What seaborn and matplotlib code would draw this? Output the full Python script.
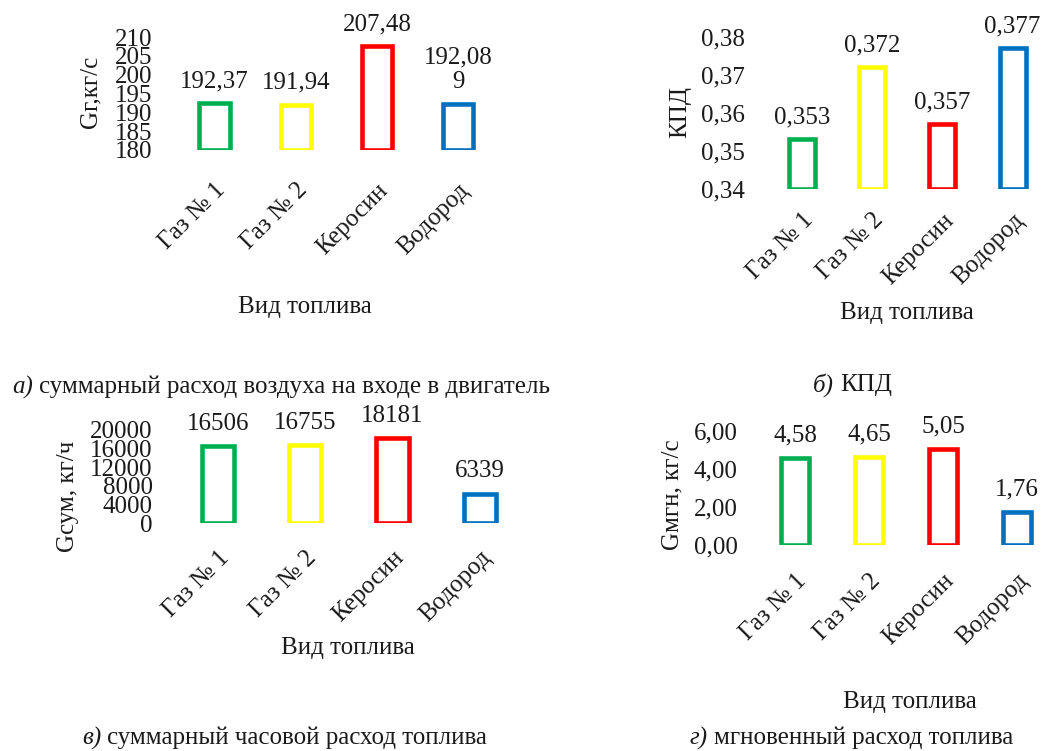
import matplotlib
matplotlib.use("Agg")
import matplotlib.pyplot as plt
from matplotlib.ticker import FuncFormatter
import pandas as pd
import seaborn as sns

# ---- data -------------------------------------------------------------
fuels = ["Газ № 1", "Газ № 2", "Керосин", "Водород"]
fuel_colors = ["#00B050", "#FFFF00", "#FF0000", "#0070C0"]

air_flow = [192.37, 191.94, 207.48, 192.089]
air_flow_labels = ["192,37", "191,94", "207,48", "192,08\n9"]
air_ticks = [180, 185, 190, 195, 200, 205, 210]

efficiency = [0.353, 0.372, 0.357, 0.377]
efficiency_labels = ["0,353", "0,372", "0,357", "0,377"]
efficiency_ticks = [0.34, 0.35, 0.36, 0.37, 0.38]

hourly_fuel = [16506, 16755, 18181, 6339]
hourly_fuel_labels = ["16506", "16755", "18181", "6339"]
hourly_ticks = [0, 4000, 8000, 12000, 16000, 20000]

instant_fuel = [4.58, 4.65, 5.05, 1.76]
instant_fuel_labels = ["4,58", "4,65", "5,05", "1,76"]
instant_ticks = [0, 2, 4, 6]

x_title = "Вид топлива"

# ---- style ------------------------------------------------------------
FS = 18
sns.set_theme(style="white")
plt.rcParams["font.family"] = ["Liberation Serif", "DejaVu Serif"]
for key in ("font.size", "axes.labelsize", "xtick.labelsize", "ytick.labelsize"):
    plt.rcParams[key] = FS
for key in ("text.color", "axes.labelcolor", "xtick.color", "ytick.color"):
    plt.rcParams[key] = "#1a1a1a"

W, H = 1046, 751
fig = plt.figure(figsize=(W / 100, H / 100), dpi=100)
fig.patch.set_facecolor("white")


def px(x, y):
    """Pixel position (from top-left) -> figure fraction."""
    return x / W, 1 - y / H


def make_axes(c0, step, xlo, xhi, y_base, y_top):
    left = c0 + xlo * step
    right = c0 + xhi * step
    ax = fig.add_axes([left / W, 1 - y_base / H, (right - left) / W, (y_base - y_top) / H])
    ax.set_xlim(xlo, xhi)
    return ax


def comma_fmt(decimals):
    return FuncFormatter(lambda v, _: f"{v:.{decimals}f}".replace(".", ","))


def draw_panel(ax, values, labels, ticks, decimals, ylabel, xpad,
               ylabel_xy, xlabel_xy):
    df = pd.DataFrame({"fuel": fuels, "value": values})
    xlim = ax.get_xlim()
    sns.barplot(data=df, x="fuel", y="value", hue="fuel", order=fuels,
                hue_order=fuels, palette=fuel_colors, width=0.37, fill=False,
                linewidth=3.3, legend=False, ax=ax)
    ax.set_xlim(xlim)
    ax.set_ylim(ticks[0], ticks[-1])
    ax.set_yticks(ticks)
    ax.yaxis.set_major_formatter(comma_fmt(decimals))

    # bars rise from the bottom of the value axis
    base = ticks[0]
    bars = sorted(ax.patches, key=lambda p: p.get_x())
    for bar, v, lab in zip(bars, values, labels):
        bar.set_y(base)
        bar.set_height(v - base)
        bar.set_joinstyle("miter")
        ax.annotate(lab, (bar.get_x() + bar.get_width() / 2, v),
                    xytext=(0, 8), textcoords="offset points",
                    ha="center", va="bottom", linespacing=1.15, fontsize=FS)

    sns.despine(ax=ax, left=True, bottom=True)
    ax.tick_params(axis="both", length=0, labelsize=FS)
    ax.tick_params(axis="y", pad=3)
    ax.tick_params(axis="x", pad=xpad)
    for t in ax.get_xticklabels():
        t.set_rotation(45)
        t.set_ha("right")
        t.set_va("top")
        t.set_rotation_mode("anchor")

    ax.set_ylabel(ylabel, fontsize=FS)
    ax.yaxis.label.set_va("center")
    ax.yaxis.set_label_coords(*px(*ylabel_xy), transform=fig.transFigure)
    ax.set_xlabel(x_title, fontsize=FS)
    ax.xaxis.label.set_va("center")
    ax.xaxis.set_label_coords(*px(*xlabel_xy), transform=fig.transFigure)
    ax.set_facecolor("none")


ax_a = make_axes(214.5, 81.2, -0.71, 3.5, 150, 37)
draw_panel(ax_a, air_flow, air_flow_labels, air_ticks, 0, "Gг,кг/с", 21,
           (90, 92), (305, 307))

ax_b = make_axes(802, 70.2, -0.75, 3.45, 188.5, 37)
draw_panel(ax_b, efficiency, efficiency_labels, efficiency_ticks, 2, "КПД", 15,
           (680, 112), (907, 313))

ax_c = make_axes(218, 87.3, -0.70, 3.5, 523, 430)
draw_panel(ax_c, hourly_fuel, hourly_fuel_labels, hourly_ticks, 0, "Gсум, кг/ч", 17,
           (68, 496), (348, 648))

ax_d = make_axes(795, 74, -0.72, 3.45, 545, 431)
draw_panel(ax_d, instant_fuel, instant_fuel_labels, instant_ticks, 2, "Gмгн, кг/с", 17.6,
           (672, 495), (910, 702))

# ---- panel captions: italic letter followed by upright text -------------
captions = [
    ("а)", "суммарный расход воздуха на входе в двигатель", 12, 387),
    ("б)", "КПД", 813, 385),
    ("в)", "суммарный часовой расход топлива", 82, 738),
    ("г)", "мгновенный расход топлива", 690, 738),
]
renderer = fig.canvas.get_renderer()
for letter, text, x0, yc in captions:
    t1 = fig.text(*px(x0, yc), letter, style="italic", ha="left", va="center",
                  fontsize=FS)
    bb = t1.get_window_extent(renderer)
    x1 = bb.x1 + 6
    fig.text(x1 / W, 1 - yc / H, text, ha="left", va="center", fontsize=FS)

fig.savefig("out.png", dpi=100, facecolor="white")
